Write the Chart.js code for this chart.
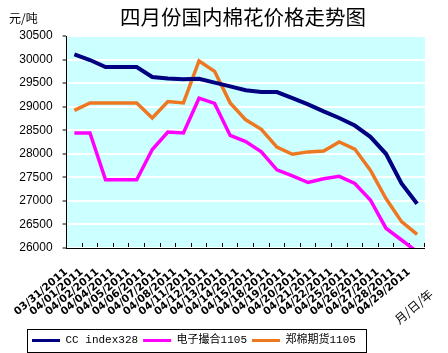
<!DOCTYPE html>
<html>
<head>
<meta charset="utf-8">
<script src="https://cdn.jsdelivr.net/npm/chart.js@4/dist/chart.umd.min.js"></script>
<style>
  html, body { margin: 0; padding: 0; background: #fff; }
  #wrap { width: 448px; height: 353px; }
</style>
</head>
<body>
<div id="wrap"><canvas id="priceChart"></canvas></div>
<script>
/* ================================
   Data
================================ */
const dates = [
  "03/31/2011", "04/01/2011", "04/02/2011", "04/04/2011", "04/05/2011",
  "04/06/2011", "04/07/2011", "04/08/2011", "04/11/2011", "04/12/2011",
  "04/13/2011", "04/14/2011", "04/15/2011", "04/18/2011", "04/19/2011",
  "04/20/2011", "04/21/2011", "04/22/2011", "04/25/2011", "04/26/2011",
  "04/27/2011", "04/28/2011", "04/29/2011"
];
const ccIndex = [
  30110, 29990, 29840, 29840, 29840, 29630, 29600, 29580, 29590, 29510,
  29430, 29350, 29310, 29310, 29180, 29050, 28900, 28760, 28600, 28360,
  28000, 27370, 26940
];
const dianzi = [
  28440, 28440, 27450, 27450, 27450, 28090, 28460, 28440, 29180, 29070,
  28390, 28260, 28040, 27660, 27530, 27390, 27470, 27520, 27370, 27020,
  26420, 26170, 25920
];
const zhengmian = [
  28920, 29080, 29080, 29080, 29080, 28760, 29110, 29080, 29970, 29750,
  29080, 28720, 28520, 28140, 27990, 28040, 28060, 28250, 28100, 27650,
  27050, 26560, 26290
];
const seriesNames = ["CC index328", "电子撮合1105", "郑棉期货1105"];
const yMin = 26000;
const yMax = 30500;
const yStep = 500;

const colors = ["#000080", "#ff00ff", "#ee7722"];

/* ================================
   Plugins
================================ */
const plotBg = {
  id: "plotBg",
  beforeDraw(chart) {
    const { ctx, chartArea: a } = chart;
    ctx.save();
    ctx.fillStyle = "#ccffff";
    ctx.fillRect(a.left, a.top, a.right - a.left, a.bottom - a.top);
    ctx.restore();
  }
};

// legend sits left of centre and a bit lower in the original
const legendShift = {
  id: "legendShift",
  afterLayout(chart) {
    const lg = chart.legend;
    if (!lg) return;
    lg.left += 27;
    lg.top += 7;
    lg.bottom += 7;
  }
};

const extras = {
  id: "extras",
  afterDraw(chart) {
    const { ctx } = chart;
    ctx.save();
    ctx.fillStyle = "#000";

    // title
    ctx.font = "20.5px 'Noto Sans CJK SC'";
    ctx.textAlign = "center";
    ctx.textBaseline = "middle";
    ctx.fillText("四月份国内棉花价格走势图", 243, 17);

    // unit
    ctx.font = "12px 'Noto Sans CJK SC'";
    ctx.textAlign = "left";
    ctx.fillText("元/吨", 9, 18);

    // x axis title, rotated like the labels
    ctx.save();
    ctx.translate(431, 292);
    ctx.rotate(-40 * Math.PI / 180);
    ctx.textAlign = "right";
    ctx.textBaseline = "middle";
    ctx.font = "12px 'Noto Sans CJK SC'";
    ctx.fillText("月/日/年", 0, 0);
    ctx.restore();

    // legend frame
    const boxes = chart.legend.legendHitBoxes;
    if (boxes && boxes.length) {
      const first = boxes[0];
      const last = boxes[boxes.length - 1];
      const left = first.left - 5;
      const right = last.left + last.width + 10;
      const top = first.top - 6;
      const bottom = first.top + first.height + 6;
      ctx.strokeStyle = "#000";
      ctx.lineWidth = 1;
      ctx.strokeRect(Math.round(left) + 0.5, Math.round(top) + 0.5,
        Math.round(right - left), Math.round(bottom - top));
    }
    ctx.restore();
  }
};

/* ================================
   Chart
================================ */
const datasets = [ccIndex, dianzi, zhengmian].map((values, i) => ({
  label: seriesNames[i],
  data: values,
  borderColor: colors[i],
  backgroundColor: colors[i],
  borderWidth: i === 0 ? 4 : 3.5,
  pointRadius: 0,
  tension: 0,
  fill: false
}));

new Chart(document.getElementById("priceChart"), {
  type: "line",
  data: { labels: dates, datasets },
  plugins: [plotBg, legendShift, extras],
  options: {
    responsive: true,
    maintainAspectRatio: false,
    animation: false,
    layout: { padding: { left: 0, top: 36, right: 5, bottom: 4 } },
    plugins: {
      title: { display: false },
      tooltip: { enabled: false },
      legend: {
        position: "bottom",
        align: "start",
        labels: {
          boxWidth: 28,
          boxHeight: 3,
          padding: 5,
          color: "#000",
          font: { family: "'Liberation Mono', 'Noto Sans CJK SC', monospace", size: 11 },
          generateLabels(chart) {
            return chart.data.datasets.map((ds, i) => ({
              text: ds.label,
              fillStyle: ds.borderColor,
              strokeStyle: ds.borderColor,
              lineWidth: 0,
              datasetIndex: i
            }));
          }
        }
      }
    },
    scales: {
      x: {
        offset: true,
        afterFit(scale) { scale.height = 75; },
        border: { display: true, color: "#000", width: 1 },
        grid: {
          offset: true,
          drawOnChartArea: false,
          drawTicks: true,
          tickLength: -5,
          tickColor: "#000",
          tickWidth: 1
        },
        ticks: {
          autoSkip: false,
          minRotation: 40,
          maxRotation: 40,
          padding: 23,
          labelOffset: -8,
          color: "#000",
          font: { family: "'DejaVu Sans'", size: 10.5, weight: "bold" }
        }
      },
      y: {
        min: yMin,
        max: yMax,
        afterFit(scale) { scale.width = 52; },
        border: { display: true, color: "#000", width: 1 },
        grid: {
          color: "#ffffff",
          lineWidth: 2,
          drawTicks: true,
          tickLength: 4,
          tickColor: "#000",
          tickWidth: 1
        },
        ticks: {
          stepSize: yStep,
          padding: 10,
          color: "#000",
          font: { family: "'Liberation Sans', Arial", size: 12 },
          callback: v => String(v)
        }
      }
    }
  }
});
</script>
</body>
</html>
